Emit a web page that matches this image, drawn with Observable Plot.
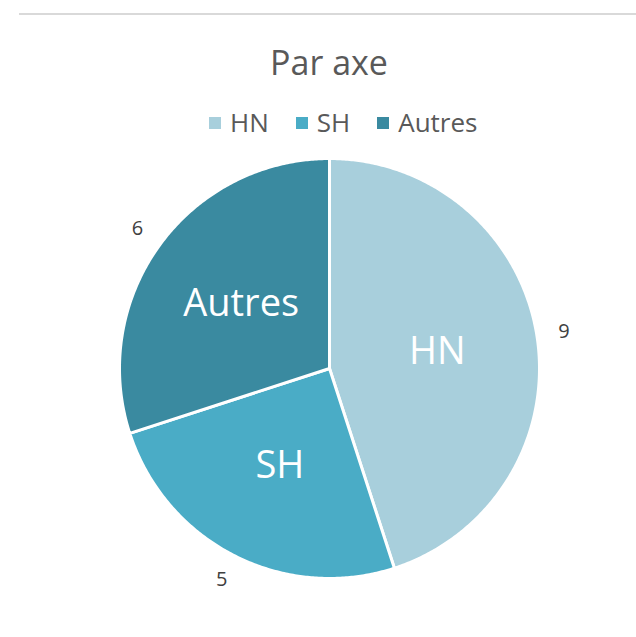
<!DOCTYPE html>
<html>
<head>
<meta charset="utf-8">
<script src="https://cdn.jsdelivr.net/npm/d3@7"></script>
<script src="https://cdn.jsdelivr.net/npm/@observablehq/plot@0.6"></script>
<style>
  body { margin: 0; background: #fff; font-family: "Open Sans", sans-serif; }
  #wrap { position: relative; width: 636px; height: 637px; overflow: hidden; }
  #rule { position: absolute; left: 19px; top: 13px; width: 617px; height: 2px; background: #d9d9d9; }
  #title { position: absolute; left: 0; width: 658px; top: 39px; text-align: center; font-size: 34px; color: #595959; }
  #legend { position: absolute; left: 209px; top: 104px; display: flex; align-items: center; font-size: 26px; line-height: 36px; color: #595959; white-space: nowrap; }
  .sw { display: inline-block; width: 12px; height: 12px; margin-right: 9px; margin-top: 2px; }
  .item { display: flex; align-items: center; margin-right: 27px; }
  #chart { position: absolute; left: 0; top: 140px; }
</style>
</head>
<body>
<div id="wrap">
  <div id="rule"></div>
  <div id="title">Par axe</div>
  <div id="legend"></div>
  <div id="chart"></div>
</div>
<script>
const title = "Par axe";
const categories = ["HN", "SH", "Autres"];
const values = [9, 5, 6];
const colors = ["#a8cfdc", "#4aacc6", "#3a8aa0"];

document.getElementById("title").textContent = title;

// legend
const leg = document.getElementById("legend");
categories.forEach((c, i) => {
  const it = document.createElement("div");
  it.className = "item";
  const sw = document.createElement("span");
  sw.className = "sw";
  sw.style.background = colors[i];
  it.appendChild(sw);
  it.appendChild(document.createTextNode(c));
  leg.appendChild(it);
});

// pie geometry in data space (unit circle)
const arcs = d3.pie().sort(null)(values);
const polys = [];
arcs.forEach((a, i) => {
  const cat = categories[i];
  polys.push({cat, x: 0, y: 0});
  const n = Math.max(2, Math.ceil((a.endAngle - a.startAngle) / (Math.PI / 360)));
  for (let k = 0; k <= n; k++) {
    const t = a.startAngle + (a.endAngle - a.startAngle) * k / n;
    polys.push({cat, x: Math.sin(t), y: Math.cos(t)});
  }
  polys.push({cat, x: 0, y: 0});
});

const inner = arcs.map((a, i) => {
  const m = (a.startAngle + a.endAngle) / 2;
  return {label: categories[i], x: 0.52 * Math.sin(m), y: 0.52 * Math.cos(m)};
});
const outer = arcs.map((a, i) => {
  const m = (a.startAngle + a.endAngle) / 2;
  return {label: String(values[i]), x: 1.13 * Math.sin(m), y: 1.13 * Math.cos(m)};
});

const R = 210, cx = 329, cy = 228, W = 636, H = 497;
const chart = Plot.plot({
  width: W,
  height: H,
  marginLeft: cx - R,
  marginRight: W - (cx + R),
  marginTop: cy - R,
  marginBottom: H - (cy + R),
  x: {domain: [-1, 1], axis: null},
  y: {domain: [-1, 1], axis: null},
  color: {domain: categories, range: colors},
  style: {fontFamily: "'Open Sans', sans-serif", background: "transparent"},
  marks: [
    Plot.line(polys, {x: "x", y: "y", z: "cat", fill: "cat", stroke: "white", strokeWidth: 3, strokeLinejoin: "round", curve: "linear"}),
    Plot.text(inner, {x: "x", y: "y", text: "label", fill: "white", fontSize: 38}),
    Plot.text(outer, {x: "x", y: "y", text: "label", fill: "#404040", fontSize: 20})
  ]
});
document.getElementById("chart").appendChild(chart);
</script>
</body>
</html>
